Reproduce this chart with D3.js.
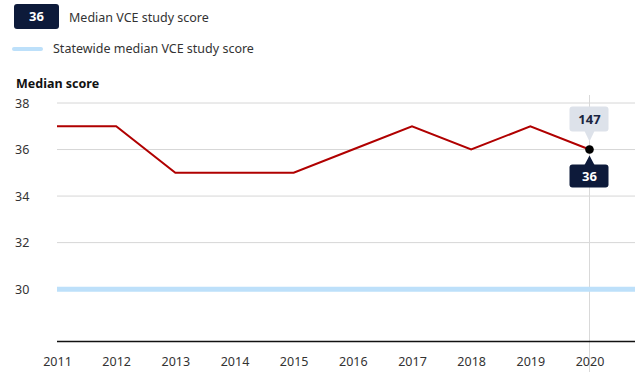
<!DOCTYPE html>
<html><head><meta charset="utf-8">
<script src="https://cdn.jsdelivr.net/npm/d3@7"></script>
<style>
body{margin:0;background:#fff;font-family:"Noto Sans",sans-serif;}
svg{display:block;}
</style></head>
<body>
<svg id="c" width="640" height="387"></svg>
<script>
const years = [2011,2012,2013,2014,2015,2016,2017,2018,2019,2020];
const schoolMedian = [37,37,35,35,35,36,37,36,37,36];
const statewideMedian = [30,30,30,30,30,30,30,30,30,30];
const yTicks = [30,32,34,36,38];
const xTicks = [2011,2012,2013,2014,2015,2016,2017,2018,2019,2020];
const highlightYear = 2020;
const highlightCount = 147;

const svg = d3.select("#c");
const x = d3.scaleLinear().domain([2011,2020]).range([57,589.5]);
const y = d3.scaleLinear().domain([27.75,38]).range([341.5,103]);
const xEnd = 635;

// Legend
const lg = svg.append("g");
lg.append("rect").attr("x",14).attr("y",4).attr("width",45).attr("height",25).attr("rx",3).attr("fill","#0d1a3a");
lg.append("text").attr("x",36.5).attr("y",21).attr("text-anchor","middle").attr("fill","#fff")
  .attr("font-size",13).attr("font-weight","bold").text("36");
lg.append("text").attr("x",69).attr("y",21.5).attr("fill","#333").attr("font-size",12.5).text("Median VCE study score");
lg.append("line").attr("x1",14).attr("x2",41).attr("y1",49).attr("y2",49).attr("stroke","#bde0fa").attr("stroke-width",4).attr("stroke-linecap","round");
lg.append("text").attr("x",53).attr("y",53).attr("fill","#333").attr("font-size",12.5).text("Statewide median VCE study score");

svg.append("text").attr("x",16).attr("y",88).attr("font-size",12.5).attr("font-weight","bold").attr("fill","#111").text("Median score");

// grid
svg.append("g").selectAll("line").data(yTicks).join("line")
  .attr("x1",57).attr("x2",xEnd).attr("y1",d=>y(d)).attr("y2",d=>y(d))
  .attr("stroke","#d6d6d6").attr("stroke-width",1);
svg.append("g").selectAll("text").data(yTicks).join("text")
  .attr("x",15).attr("y",d=>y(d)+4.5).attr("font-size",12.5).attr("fill","#333").text(d=>d);

// hover vertical line
svg.append("line").attr("x1",x(highlightYear)).attr("x2",x(highlightYear)).attr("y1",95).attr("y2",372)
  .attr("stroke","#d9d9d9").attr("stroke-width",1);

// x axis
const xAxis = d3.axisBottom(x).tickValues(xTicks).tickFormat(d3.format("d")).tickSize(0).tickPadding(16);
const gx = svg.append("g").attr("transform",`translate(0,${y(27.75)})`).call(xAxis);
gx.select(".domain").remove();
gx.selectAll("text").attr("font-size",12.5).attr("fill","#333").attr("font-family","Noto Sans");
svg.append("line").attr("x1",57).attr("x2",xEnd).attr("y1",y(27.75)).attr("y2",y(27.75)).attr("stroke","#111").attr("stroke-width",1.5);

// statewide line
const line = d3.line().x((d,i)=>x(years[i])).y(d=>y(d));
svg.append("line").attr("x1",57).attr("x2",xEnd).attr("y1",y(statewideMedian[0])).attr("y2",y(statewideMedian[0]))
  .attr("stroke","#bde0fa").attr("stroke-width",5);
svg.append("path").datum(schoolMedian).attr("d",line).attr("fill","none").attr("stroke","#b00000").attr("stroke-width",2);

// highlight
const hx = x(highlightYear), hy = y(schoolMedian[schoolMedian.length-1]);
svg.append("circle").attr("cx",hx).attr("cy",hy).attr("r",4.3).attr("fill","#000");
// top tooltip
const t1 = svg.append("g");
t1.append("rect").attr("x",hx-20).attr("y",hy-43).attr("width",39).attr("height",25).attr("rx",3).attr("fill","#dde2ea");
t1.append("path").attr("d",`M${hx-5},${hy-18.5} L${hx},${hy-8} L${hx+5},${hy-18.5}Z`).attr("fill","#dde2ea");
t1.append("text").attr("x",hx).attr("y",hy-25.5).attr("text-anchor","middle").attr("font-size",13).attr("font-weight","bold").attr("fill","#1a2540").text(highlightCount);
// bottom tooltip
const t2 = svg.append("g");
t2.append("rect").attr("x",hx-20).attr("y",hy+15).attr("width",39).attr("height",23).attr("rx",3).attr("fill","#0d1a3a");
t2.append("path").attr("d",`M${hx-5},${hy+15.5} L${hx},${hy+6} L${hx+5},${hy+15.5}Z`).attr("fill","#0d1a3a");
t2.append("text").attr("x",hx).attr("y",hy+31.5).attr("text-anchor","middle").attr("font-size",13).attr("font-weight","bold").attr("fill","#fff").text(schoolMedian[schoolMedian.length-1]);
</script>
</body></html>
